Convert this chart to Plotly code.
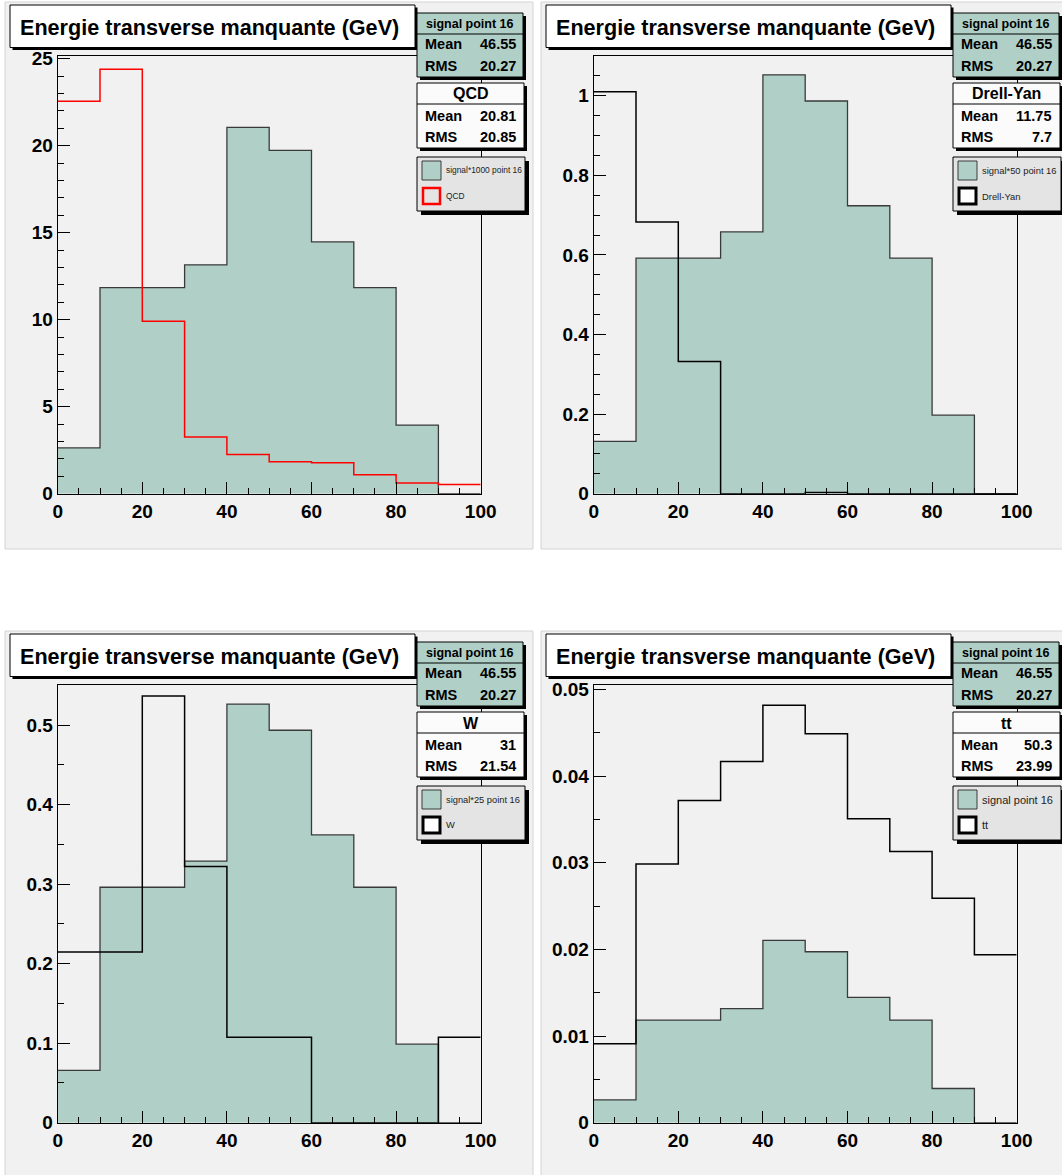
import plotly.graph_objects as go

W, H = 1062, 1175

# ---------------- data ----------------
bin_edges = [0, 10, 20, 30, 40, 50, 60, 70, 80, 90, 100]
signal_pt16 = [0.002632, 0.011842, 0.011842, 0.013158, 0.021053,
               0.019737, 0.014474, 0.011842, 0.003947, 0.0]
qcd = [22.56, 24.40, 9.92, 3.26, 2.25, 1.84, 1.78, 1.09, 0.61, 0.53]
drell_yan = [1.010, 0.683, 0.332, 0.0, 0.0, 0.003, 0.0, 0.0, 0.0, 0.0]
w_jets = [0.2146, 0.2146, 0.5366, 0.3220, 0.1073, 0.1073, 0.0, 0.0, 0.0, 0.1073]
ttbar = [0.00912, 0.02987, 0.0372, 0.0417, 0.0482, 0.0449, 0.0351, 0.0313, 0.0259, 0.0194]

signal_scales = [1000, 50, 25, 1]
signal_labels = ["signal*1000 point 16", "signal*50 point 16",
                 "signal*25 point 16", "signal point 16"]
bkg_names = ["QCD", "Drell-Yan", "W", "tt"]
bkg_means = ["20.81", "11.75", "31", "50.3"]
bkg_rms = ["20.85", "7.7", "21.54", "23.99"]
sig_name = "signal point 16"
sig_mean, sig_rms = "46.55", "20.27"
title_text = "Energie transverse manquante (GeV)"

y_max = [25.16, 1.10, 0.5503, 0.05053]
y_dtick = [5, 0.2, 0.1, 0.01]
y_minor = [1, 0.05, 0.05, 0.005]
bkg_colors = ["#ff0000", "black", "black", "black"]
legend_font = [8.4, 9.4, 9.3, 11]

# ---------------- style ----------------
FONT = "Liberation Sans, Arial, Helvetica, sans-serif"
TEAL = "#b0d0c7"
PAD = "#f1f1f1"
LEG = "#e4e4e4"

offsets = [(0, 0), (536, 0), (0, 629), (536, 629)]
FRAME = (57.7, 56.0, 480.7, 493.7)  # x0, ytop, x1, ybottom in pad-1 pixels


def px(x):
    return x / W


def py(y):
    return 1 - y / H


def rect(x0, y0, x1, y1, fill, line="black", lw=1, layer="above"):
    return dict(type="rect", xref="paper", yref="paper",
                x0=px(x0), x1=px(x1), y0=py(y1), y1=py(y0),
                fillcolor=fill, line=dict(color=line, width=lw), layer=layer)


def hline(x0, x1, y, lw=1):
    return dict(type="line", xref="paper", yref="paper",
                x0=px(x0), x1=px(x1), y0=py(y), y1=py(y),
                line=dict(color="black", width=lw))


def text(x, y, s, size, bold=True, xanchor="left", color="black"):
    return dict(xref="paper", yref="paper", x=px(x), y=py(y), text=s,
                showarrow=False, xanchor=xanchor, yanchor="middle",
                font=dict(family=FONT, size=size, color=color,
                          weight="bold" if bold else "normal"))


def step_xy(vals):
    xs = bin_edges[:-1] + [bin_edges[-1]]
    ys = list(vals) + [vals[-1]]
    return xs, ys


backgrounds = [qcd, drell_yan, w_jets, ttbar]

fig = go.Figure()
shapes = []
annotations = []
layout = {}

for i in range(4):
    dx, dy = offsets[i]
    n = "" if i == 0 else str(i + 1)
    xa, ya = "x" + n, "y" + n

    # pad background
    shapes.append(rect(5 + dx, 2 + dy, min(533 + dx, W + 5), min(549 + dy, H + 5), PAD,
                       line="#d4d4d4", lw=1, layer="below"))

    # scaled signal, filled
    sig_vals = [v * signal_scales[i] for v in signal_pt16]
    xs, ys = step_xy(sig_vals)
    fig.add_trace(go.Scatter(x=xs, y=ys, mode="lines", line_shape="hv",
                             fill="tozeroy", fillcolor=TEAL,
                             line=dict(color="#3a3a3a", width=1.3),
                             xaxis=xa, yaxis=ya, showlegend=False,
                             hoverinfo="skip"))
    # background outline
    xs, ys = step_xy(backgrounds[i])
    fig.add_trace(go.Scatter(x=xs, y=ys, mode="lines", line_shape="hv",
                             line=dict(color=bkg_colors[i], width=1.5),
                             xaxis=xa, yaxis=ya, showlegend=False,
                             hoverinfo="skip"))

    fx0, fyt, fx1, fyb = FRAME
    axis_common = dict(showline=True, mirror=True, linecolor="black",
                       linewidth=1, showgrid=False, zeroline=False,
                       ticks="inside", ticklen=12, tickcolor="black",
                       tickwidth=1,
                       tickfont=dict(family=FONT, size=19, color="black",
                                     weight="bold"))
    layout["xaxis" + n] = dict(axis_common, domain=[px(fx0 + dx), px(fx1 + dx)],
                               range=[0, 100], dtick=20, tick0=0,
                               anchor=ya,
                               minor=dict(dtick=5, ticks="inside", ticklen=6,
                                          tickcolor="black", showgrid=False))
    layout["yaxis" + n] = dict(axis_common, domain=[py(fyb + dy), py(fyt + dy)],
                               range=[0, y_max[i]], dtick=y_dtick[i], tick0=0,
                               anchor=xa,
                               minor=dict(dtick=y_minor[i], ticks="inside",
                                          ticklen=6, tickcolor="black",
                                          showgrid=False))

    # title box
    shapes.append(rect(12.5 + dx, 7.5 + dy, 417.5 + dx, 50 + dy, "black", lw=0))
    shapes.append(rect(10 + dx, 5 + dy, 415 + dx, 47.5 + dy, "white"))
    annotations.append(text(18 + dx, 27.5 + dy, title_text, 21.6))

    # signal stats box
    shapes.append(rect(420 + dx, 16 + dy, 526 + dx, 80 + dy, "black", lw=0))
    shapes.append(rect(417 + dx, 13 + dy, 523 + dx, 77 + dy, TEAL))
    shapes.append(hline(417 + dx, 523 + dx, 34 + dy))
    annotations.append(text(470 + dx, 23.5 + dy, sig_name, 12.5, xanchor="center"))
    annotations.append(text(423 + dx, 44 + dy, "Mean", 14.5))
    annotations.append(text(518 + dx, 44 + dy, sig_mean, 14.5, xanchor="right"))
    annotations.append(text(423 + dx, 66 + dy, "RMS", 14.5))
    annotations.append(text(518 + dx, 66 + dy, sig_rms, 14.5, xanchor="right"))

    # background stats box
    shapes.append(rect(420 + dx, 86 + dy, 527 + dx, 151 + dy, "black", lw=0))
    shapes.append(rect(417 + dx, 83 + dy, 524 + dx, 148 + dy, "#fbfbfb"))
    shapes.append(hline(417 + dx, 524 + dx, 104 + dy))
    annotations.append(text(470.5 + dx, 94 + dy, bkg_names[i], 16, xanchor="center"))
    annotations.append(text(423 + dx, 116 + dy, "Mean", 14.5))
    annotations.append(text(518 + dx, 116 + dy, bkg_means[i], 14.5, xanchor="right"))
    annotations.append(text(423 + dx, 137 + dy, "RMS", 14.5))
    annotations.append(text(518 + dx, 137 + dy, bkg_rms[i], 14.5, xanchor="right"))

    # legend box
    shapes.append(rect(421 + dx, 161 + dy, 529 + dx, 215 + dy, "black", lw=0))
    shapes.append(rect(417 + dx, 157 + dy, 525 + dx, 211 + dy, LEG))
    shapes.append(rect(422 + dx, 161 + dy, 441 + dx, 180 + dy, TEAL,
                       line="#3a3a3a", lw=1))
    if i == 0:
        shapes.append(rect(423 + dx, 188 + dy, 440 + dx, 204 + dy, LEG,
                           line="#ff0000", lw=2.5))
    else:
        shapes.append(rect(423 + dx, 188 + dy, 440 + dx, 204 + dy, "white",
                           line="black", lw=3))
    annotations.append(text(444 + dx, 170.5 + dy, signal_labels[i],
                            legend_font[i], bold=False, color="#222"))
    annotations.append(text(444 + dx, 196 + dy, bkg_names[i],
                            legend_font[i], bold=False, color="#222"))

fig.update_layout(
    width=W, height=H,
    margin=dict(l=0, r=0, t=0, b=0, autoexpand=False),
    paper_bgcolor="white",
    plot_bgcolor="rgba(0,0,0,0)",
    shapes=shapes,
    annotations=annotations,
    showlegend=False,
    **layout,
)

fig.write_html(
    "out.html",
    config={"displayModeBar": False},
    post_script=(
        "document.body.style.margin='0';"
        "document.body.style.overflow='hidden';"
        "document.documentElement.style.overflow='hidden';"
        "var d=document.getElementsByClassName('plotly-graph-div')[0];"
        "d.style.position='fixed';d.style.left='0px';d.style.top='0px';"
    ),
)
